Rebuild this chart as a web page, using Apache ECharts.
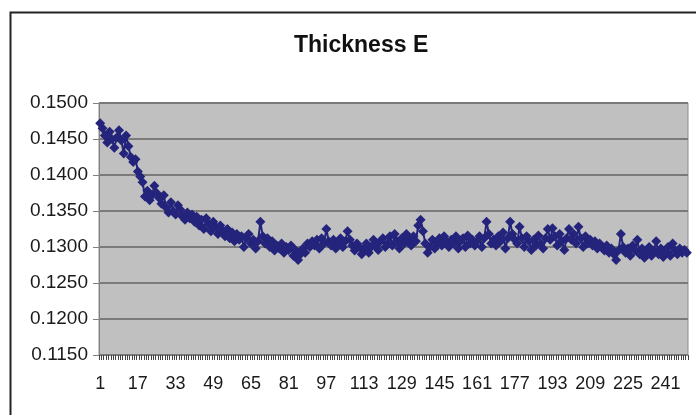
<!DOCTYPE html>
<html>
<head>
<meta charset="utf-8">
<script src="https://cdn.jsdelivr.net/npm/echarts@6/dist/echarts.min.js"></script>
<style>
html,body{margin:0;padding:0;background:#fff;}
#c{width:696px;height:415px;}
</style>
</head>
<body>
<div id="c"></div>
<script>
var title = "Thickness E";
var yTicks = [0.115, 0.12, 0.125, 0.13, 0.135, 0.14, 0.145, 0.15];
var values = [
0.1472,0.1465,0.1455,0.1445,0.1460,0.1450,0.1438,0.1452,0.1462,0.1448,
0.1430,0.1455,0.1440,0.1425,0.1418,0.1422,0.1405,0.1398,0.1390,0.1370,
0.1378,0.1365,0.1372,0.1385,0.1375,0.1368,0.1360,0.1372,0.1355,0.1348,
0.1362,0.1350,0.1345,0.1358,0.1352,0.1342,0.1338,0.1348,0.1340,0.1345,
0.1335,0.1342,0.1330,0.1338,0.1325,0.1340,0.1332,0.1322,0.1335,0.1328,
0.1318,0.1330,0.1322,0.1315,0.1325,0.1312,0.1320,0.1308,0.1318,0.1310,
0.1315,0.1300,0.1312,0.1318,0.1305,0.1310,0.1298,0.1308,0.1335,0.1315,
0.1305,0.1312,0.1300,0.1308,0.1295,0.1302,0.1298,0.1305,0.1292,0.1300,
0.1296,0.1302,0.1288,0.1295,0.1282,0.1290,0.1298,0.1292,0.1305,0.1300,
0.1308,0.1302,0.1310,0.1298,0.1312,0.1305,0.1325,0.1308,0.1302,0.1310,
0.1298,0.1305,0.1312,0.1300,0.1308,0.1322,0.1310,0.1302,0.1295,0.1305,
0.1300,0.1290,0.1298,0.1305,0.1292,0.1300,0.1310,0.1302,0.1296,0.1308,
0.1312,0.1300,0.1305,0.1315,0.1302,0.1318,0.1308,0.1298,0.1312,0.1305,
0.1318,0.1310,0.1302,0.1315,0.1308,0.1330,0.1338,0.1322,0.1305,0.1292,
0.1300,0.1310,0.1298,0.1305,0.1312,0.1302,0.1315,0.1308,0.1300,0.1310,
0.1305,0.1315,0.1298,0.1308,0.1312,0.1300,0.1316,0.1305,0.1310,0.1302,
0.1308,0.1315,0.1300,0.1312,0.1335,0.1318,0.1305,0.1310,0.1302,0.1315,
0.1308,0.1320,0.1298,0.1312,0.1335,0.1318,0.1310,0.1305,0.1328,0.1312,
0.1300,0.1315,0.1308,0.1296,0.1310,0.1302,0.1316,0.1305,0.1298,0.1312,
0.1325,0.1310,0.1326,0.1315,0.1302,0.1318,0.1308,0.1296,0.1312,0.1325,
0.1310,0.1318,0.1305,0.1328,0.1312,0.1300,0.1315,0.1305,0.1310,0.1302,
0.1308,0.1298,0.1305,0.1300,0.1295,0.1302,0.1292,0.1298,0.1290,0.1282,
0.1295,0.1318,0.1300,0.1292,0.1298,0.1288,0.1302,0.1295,0.1310,0.1290,
0.1298,0.1285,0.1292,0.1300,0.1288,0.1295,0.1308,0.1290,0.1298,0.1286,
0.1292,0.1300,0.1288,0.1305,0.1295,0.1290,0.1298,0.1292,0.1296,0.1292
];
var categories = values.map(function(_, i){ return String(i + 1); });

var chart = echarts.init(document.getElementById('c'), null, {renderer:'canvas'});
chart.setOption({
  backgroundColor: '#ffffff',
  animation: false,
  title: {
    text: title, left: 289, top: 29,
    textStyle: {fontFamily: 'Liberation Sans', fontWeight: 'bold', fontSize: 23, color: '#111'}
  },
  graphic: [{
    type: 'rect', left: 8, top: 10, shape: {width: 700, height: 420},
    style: {fill: 'none', stroke: '#222', lineWidth: 2}, silent: true, z: 100
  }],
  grid: {left: 99, right: 8, top: 103, bottom: 60, show: true, backgroundColor: '#c0c0c0', borderColor: '#8c8c8c', borderWidth: 1},
  xAxis: {
    type: 'category', data: categories, boundaryGap: true,
    axisLine: {lineStyle: {color: '#808080', width: 1}},
    axisTick: {show: true, interval: 0, length: 5, lineStyle: {color: '#444', width: 1}},
    axisLabel: {interval: 15, color: '#1a1a1a', fontFamily: 'Liberation Sans', fontSize: 18, margin: 20},
    splitLine: {show: false}
  },
  yAxis: {
    type: 'value', min: 0.115, max: 0.15, interval: 0.005,
    axisLine: {show: true, lineStyle: {color: '#808080', width: 1}},
    axisTick: {show: true, length: 6, lineStyle: {color: '#808080'}},
    axisLabel: {color: '#1a1a1a', fontFamily: 'Liberation Sans', fontSize: 19, margin: 11,
      formatter: function(v){ return v.toFixed(4); }},
    splitLine: {show: true, lineStyle: {color: '#7a7a7a', width: 2}}
  },
  series: [{
    type: 'line', data: values,
    symbol: 'diamond', symbolSize: 10, showSymbol: true, showAllSymbol: true,
    itemStyle: {color: '#24247c'},
    lineStyle: {color: '#24247c', width: 2}
  }]
});
</script>
</body>
</html>
